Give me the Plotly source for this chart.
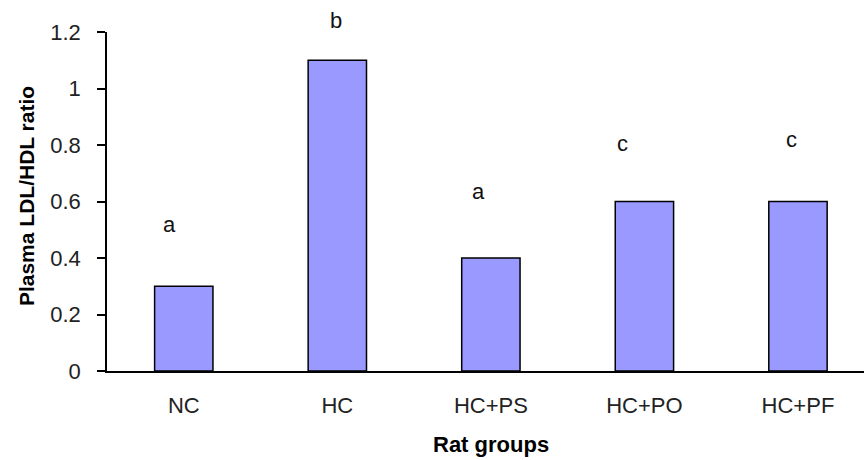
import plotly.graph_objects as go

categories = ["NC", "HC", "HC+PS", "HC+PO", "HC+PF"]
ratios = [0.3, 1.1, 0.4, 0.6, 0.6]
letters = ["a", "b", "a", "c", "c"]
letter_y = [0.517, 1.239, 0.634, 0.807, 0.818]
letter_x = [-0.09, 0.99, 1.92, 2.86, 3.96]
y_ticks = [0, 0.2, 0.4, 0.6, 0.8, 1.0, 1.2]
y_tick_text = ["0", "0.2", "0.4", "0.6", "0.8", "1", "1.2"]

font_main = "Liberation Sans, Arial, sans-serif"
font_letter = "Liberation Sans, Arial, sans-serif"

y_max = y_ticks[-1]

fig = go.Figure()
fig.add_trace(go.Bar(
    x=list(range(len(categories))), y=ratios,
    width=0.38,
    marker=dict(color="#9999FF", line=dict(color="#000000", width=1.5)),
    showlegend=False,
))

annotations = []
for lx, ly, t in zip(letter_x, letter_y, letters):
    annotations.append(dict(
        x=lx, y=ly / y_max, xref="x", yref="y domain",
        xanchor="center", yanchor="middle", text=t, showarrow=False,
        font=dict(family=font_letter, size=22, color="#111111")))

annotations += [
    dict(x=2, y=-0.218, xref="x", yref="paper", yanchor="middle", xanchor="center",
         text="<b>Rat groups</b>", showarrow=False,
         font=dict(family=font_main, size=22, color="#000000")),
    dict(x=-0.107, y=0.516, xref="paper", yref="paper", yanchor="middle", xanchor="center",
         text="<b>Plasma LDL/HDL ratio</b>", showarrow=False, textangle=-90,
         font=dict(family=font_main, size=21, color="#000000")),
]

fig.update_layout(
    width=864, height=460,
    margin=dict(l=107, r=0, t=32, b=89, autoexpand=False),
    paper_bgcolor="white", plot_bgcolor="white",
    annotations=annotations,
    xaxis=dict(
        tickmode="array", tickvals=list(range(len(categories))), ticktext=categories,
        range=[-0.5, 4.43], showline=True, linecolor="black", linewidth=1.5,
        ticks="", showgrid=False, zeroline=False, automargin=False,
        tickfont=dict(family=font_main, size=22, color="#222222"),
        ticklabelstandoff=14,
    ),
    yaxis=dict(
        range=[0, y_max], tickmode="array", tickvals=y_ticks, ticktext=y_tick_text,
        showline=True, linecolor="black", linewidth=1.5,
        ticks="outside", ticklen=8, tickwidth=1.5, tickcolor="black",
        showgrid=False, zeroline=False, automargin=False,
        tickfont=dict(family=font_main, size=22, color="#222222"),
        ticklabelstandoff=12,
    ),
    # boundary ticks drawn by a second, overlaying x axis
    xaxis2=dict(
        overlaying="x", matches="x", side="bottom", anchor="y",
        tickmode="array", tickvals=[-0.5, 0.5, 1.5, 2.5, 3.5, 4.5],
        ticks="outside", ticklen=7, tickwidth=1.5, tickcolor="black",
        showticklabels=False, showgrid=False, zeroline=False, showline=False,
        automargin=False,
    ),
)

fig.write_html("out.html", config={"displayModeBar": False},
               post_script="document.body.style.margin='0';")
